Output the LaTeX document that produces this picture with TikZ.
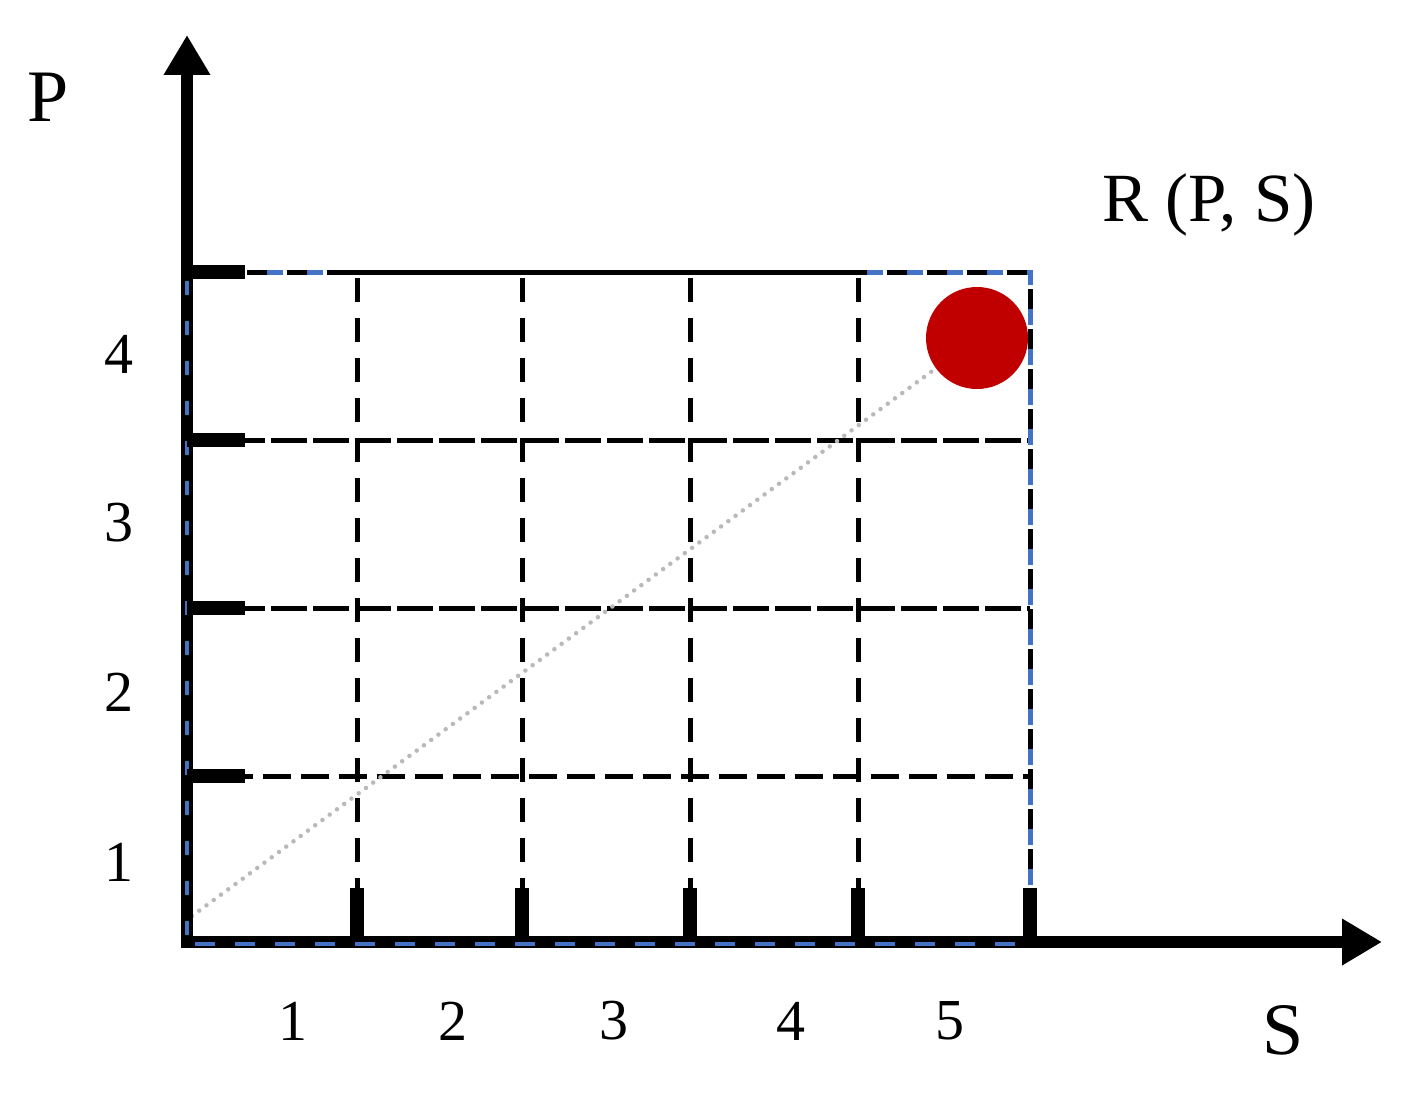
\documentclass[tikz,border=0pt]{standalone}
\usepackage{fontspec}
\setmainfont{Liberation Serif}
\usetikzlibrary{arrows.meta}
\definecolor{dotred}{RGB}{192,0,0}
\definecolor{bluecol}{RGB}{68,114,196}
\begin{document}
\begin{tikzpicture}[x=1pt,y=-1pt,
  axis/.style={line width=12.5pt,-{Triangle[length=40pt,width=44pt]}},
  tickmark/.style={line width=14pt},
  gridv/.style={line width=5pt,dash pattern=on 24pt off 16pt},
  gridh/.style={line width=5pt,dash pattern=on 36pt off 6pt},
  gridhs/.style={line width=5pt,dash pattern=on 28pt off 10pt},
  bdblue/.style={line width=5pt,bluecol,dash pattern=on 16pt off 24pt},
  bdblack/.style={line width=5pt,black,dash pattern=on 22pt off 18pt,dash phase=20pt},
  lbl/.style={inner sep=0pt,font=\fontsize{58}{60}\selectfont},
  big/.style={inner sep=0pt,font=\fontsize{74}{76}\selectfont}]
\useasboundingbox (0,0) rectangle (1404,1097);
\fill[white] (0,0) rectangle (1404,1097);
% coordinates
\coordinate (O) at (187,942);
\coordinate (Ytop) at (187,35);
\coordinate (Xend) at (1382,942);
\coordinate (TR) at (1030,272);
% grid
\foreach \x in {357,522,690,858} \draw[gridv] (\x,942) -- (\x,272);
\draw[gridh] (187,440) -- (1030,440);
\draw[gridh] (187,608) -- (1030,608);
\draw[gridhs] (187,776) -- (1030,776);
% boundary
\draw[bdblack] (187,272) -- (TR) -- (1030,942);
\draw[bdblue] (187,272) -- (TR) -- (1030,942);
\draw[black,line width=5pt] (340,272) -- (860,272);
% dotted diagonal
\node[circle,fill=dotred,minimum size=102pt,inner sep=0pt] (dot) at (977,338) {};
\coordinate (start) at (192,916);
\draw[gray!55,line width=4.5pt,dash pattern=on 0pt off 9pt,line cap=round] (start) -- (dot);
% axes
\draw[axis] (O) -- (Ytop);
\draw[axis] (181,942) -- (Xend);
\draw[bluecol,line width=4pt,dash pattern=on 14pt off 26pt] (187,935) -- (187,272);
\draw[bluecol,line width=4pt,dash pattern=on 20pt off 20pt] (195,944) -- (1020,944);
% ticks
\foreach \y in {272,440,608,776} \draw[tickmark] (187,\y) -- (245,\y);
\foreach \x in {357,522,690,858,1030} \draw[tickmark] (\x,942) -- (\x,888);
% labels
\node[big] (P) at (48,97) {P};
\node[big] (S) at (1283,1030) {S};
\node[big,font=\fontsize{69}{71}\selectfont] (R) at (1209,205) {R (P, S)};
\node[lbl] (y4) at (119,354) {4};
\node[lbl] (y3) at (119,523) {3};
\node[lbl] (y2) at (119,692) {2};
\node[lbl] (y1) at (119,862) {1};
\node[lbl] (x1) at (293,1021) {1};
\node[lbl] (x2) at (453,1021) {2};
\node[lbl] (x3) at (614,1021) {3};
\node[lbl] (x4) at (791,1021) {4};
\node[lbl] (x5) at (950,1021) {5};
\end{tikzpicture}
\end{document}
